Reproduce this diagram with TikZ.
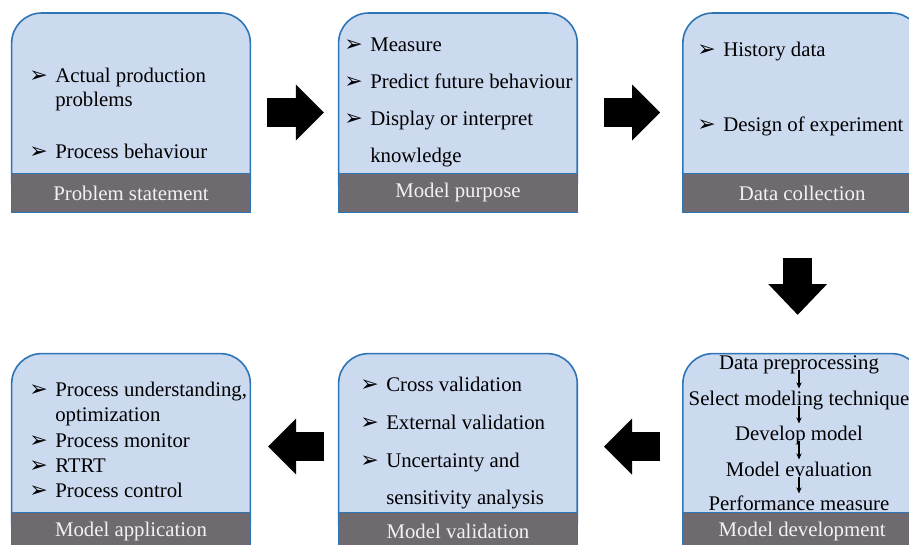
\documentclass[tikz,border=0pt]{standalone}
\usepackage{fontspec}
\setmainfont{Liberation Serif}
\newfontfamily\timesfont{Liberation Serif}
\newfontfamily\symfont{DejaVu Sans}
\usetikzlibrary{positioning, arrows.meta}
\definecolor{boxfill}{RGB}{204,218,240}
\definecolor{boxline}{RGB}{46,117,182}
\definecolor{bandgrey}{RGB}{110,106,112}
\definecolor{bandtext}{RGB}{242,242,242}
\newcommand\bodyfont{\timesfont\fontsize{15.6}{18.75}\selectfont}
\newcommand\bul{\llap{\makebox[19.5pt][l]{\raisebox{0pt}{\symfont\fontsize{16.5}{16.5}\selectfont\char"27A2}}}}
\tikzstyle{stage} = [rectangle, rounded corners=22.5pt, minimum width=179pt, minimum height=149.25pt, draw=boxline, line width=1.2pt, fill=boxfill, inner sep=0pt]
\tikzstyle{band} = [rectangle, minimum width=179pt, minimum height=29.25pt, fill=bandgrey, draw=boxline, line width=0.6pt, text=bandtext, font=\bodyfont, anchor=south, inner sep=0pt]
\tikzstyle{item} = [anchor=west, inner sep=0pt, text height=12.5pt, text depth=0pt, font=\bodyfont]
\tikzstyle{flowtext} = [inner sep=0pt, text height=12.5pt, text depth=0pt, font=\bodyfont]
\tikzstyle{bigarrow} = [line width=22pt, -{Triangle[length=21pt, width=42pt, line width=0pt]}]
\tikzstyle{smallarrow} = [line width=0.8pt, -{Stealth[length=4.5pt, width=4pt]}]
\begin{document}
\begin{tikzpicture}[x=0.75pt, y=-0.75pt]
\useasboundingbox (0,0) rectangle (909,544);
\clip (0,0) rectangle (909,544);

\node (ps) [stage] at (131,112.5) {};
\node (mp) [stage, right=65pt of ps] {};
\node (dc) [stage, right=78pt of mp] {};
\node (md) [stage, below=105pt of dc] {};
\node (mv) [stage, left=78pt of md] {};
\node (ma) [stage, left=65pt of mv] {};

\node (psband) [band] at (ps.south) {Problem statement};
\node (mpband) [band] at (mp.south) {Model purpose};
\node (dcband) [band] at (dc.south) {Data collection};
\node (mdband) [band] at ([yshift=1.5pt]md.south) {Model development};
\node (mvband) [band] at ([yshift=1.5pt]mv.south) {Model validation};
\node (maband) [band] at ([yshift=1.5pt]ma.south) {Model application};

\foreach \yy/\txt [count=\i] in {74/{\bul Actual production}, 98/problems, 150/{\bul Process behaviour}}
  \node (ps-\i) [item] at (55,\yy) {\txt};
\foreach \yy/\txt [count=\i] in {43/{\bul Measure}, 80/{\bul Predict future behaviour}, 117/{\bul Display or interpret}, 154/knowledge}
  \node (mp-\i) [item] at (370,\yy) {\txt};
\foreach \yy/\txt [count=\i] in {48/{\bul History data}, 123/{\bul Design of experiment}}
  \node (dc-\i) [item] at (723,\yy) {\txt};
\foreach \yy/\txt [count=\i] in {388/{\bul Process understanding,}, 413/optimization, 439/{\bul Process monitor}, 464/{\bul RTRT}, 489/{\bul Process control}}
  \node (ma-\i) [item] at (55,\yy) {\txt};
\foreach \yy/\txt [count=\i] in {383/{\bul Cross validation}, 421/{\bul External validation}, 459/{\bul Uncertainty and}, 496/sensitivity analysis}
  \node (mv-\i) [item] at (386,\yy) {\txt};
\foreach \yy/\txt [count=\i] in {361/Data preprocessing, 397/Select modeling technique, 432/Develop model, 468/Model evaluation, 502/Performance measure}
  \node (md-\i) [flowtext] at (799,\yy) {\txt};

\foreach \i/\j in {1/2, 2/3, 3/4, 4/5}
  \draw [smallarrow] (md-\i) -- (md-\j);

\draw [bigarrow] ([xshift=12pt]ps.east) -- ([xshift=-10.5pt]mp.west);
\draw [bigarrow] ([xshift=19.5pt]mp.east) -- ([xshift=-16.5pt]dc.west);
\draw [bigarrow, -{Triangle[length=23pt, width=44pt, line width=0pt]}] ([xshift=-3.4pt, yshift=-33.75pt]dc.south) -- ([xshift=-3.4pt, yshift=28.5pt]md.north);
\draw [bigarrow] ([xshift=-16.5pt, yshift=4.9pt]md.west) -- ([xshift=19.5pt, yshift=4.9pt]mv.east);
\draw [bigarrow] ([xshift=-10.5pt, yshift=4.9pt]mv.west) -- ([xshift=12.75pt, yshift=4.9pt]ma.east);

\end{tikzpicture}
\end{document}
